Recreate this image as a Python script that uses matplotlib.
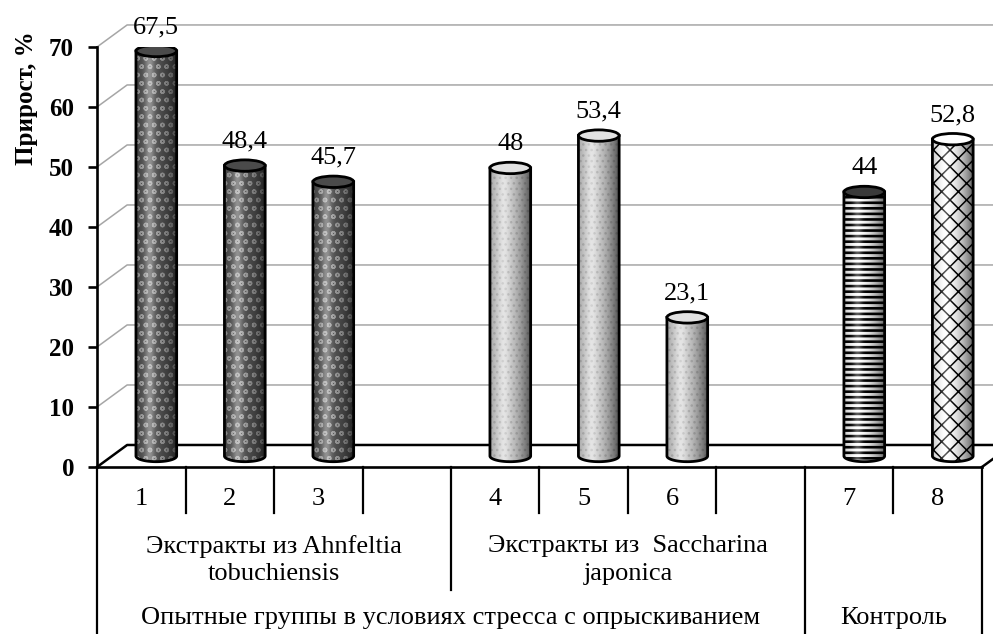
import numpy as np
import matplotlib.pyplot as plt
from matplotlib.patches import Polygon, Ellipse

plt.rcParams['font.family'] = ['Liberation Serif', 'DejaVu Serif']
plt.rcParams['hatch.linewidth'] = 1.0

# данные с рисунка
categories = ['1', '2', '3', '', '4', '5', '6', '', '7', '8']
values = [67.5, 48.4, 45.7, np.nan, 48, 53.4, 23.1, np.nan, 44, 52.8]
value_labels = ['67,5', '48,4', '45,7', '', '48', '53,4', '23,1', '', '44', '52,8']
group_labels = ['Экстракты из Ahnfeltia\ntobuchiensis', 'Экстракты из  Saccharina\njaponica']
group_sizes = [4, 4]
top_labels = ['Опытные группы в условиях стресса с опрыскиванием', 'Контроль']
top_sizes = [8, 2]
ylabel = 'Прирост, %'
yticks = [0, 10, 20, 30, 40, 50, 60, 70]

# заливка цилиндров
kind = ['dark', 'dark', 'dark', None, 'light', 'light', 'light', None, 'stripe', 'net']
styles = {
    'dark': dict(face='#575757', hcolor='#a4a4a4', hatch='oo', top='#4a4a4a', hlw=1.0),
    'light': dict(face='#d6d6d6', hcolor='#b8b8b8', hatch='...', top='#e2e2e2', hlw=1.0),
    'stripe': dict(face='white', hcolor='black', hatch='---', top='#3a3a3a', hlw=1.9),
    'net': dict(face='white', hcolor='black', hatch='xx', top='white', hlw=1.1),
}

fig = plt.figure(figsize=(9.93, 6.34), dpi=100)
ax = fig.add_axes([0.0977, 0.2634, 0.8912, 0.6625])
n = len(categories)
dx, dy = 0.34, 3.67     # глубина "3D"
bw, eh = 0.46, 1.9      # ширина цилиндра, высота эллипса
fs = 19

# задняя стенка и боковые линии
for t in yticks:
    col = 'black' if t == 0 else '#a6a6a6'
    lw = 1.8 if t == 0 else 1.1
    ax.plot([0, dx, n + dx + 1], [t, t + dy, t + dy], color=col, lw=lw, zorder=1, clip_on=False)
ax.plot([n, n + dx], [0, dy], color='black', lw=1.8, zorder=1, clip_on=False)

# градиент для объёма
tt = np.linspace(0, 1, 64)
dark = np.zeros((1, 64, 4))
dark[0, :, 3] = np.clip(0.6 * (np.abs(tt - 0.35) / 0.65) ** 1.6, 0, 0.6)
light = np.ones((1, 64, 4))
light[0, :, 3] = 0.35 * np.exp(-((tt - 0.33) / 0.12) ** 2)

for i, v in enumerate(values):
    if np.isnan(v):
        continue
    st = styles[kind[i]]
    xc = i + 0.5 + dx / 2
    base = dy / 2
    top = v + dy / 2
    th = np.linspace(np.pi, 2 * np.pi, 40)
    pts = [(xc - bw / 2, top)] + list(zip(xc + bw / 2 * np.cos(th), base + eh / 2 * np.sin(th))) + [(xc + bw / 2, top)]
    body = Polygon(pts, closed=True, facecolor=st['face'], edgecolor=st['hcolor'],
                   hatch=st['hatch'], lw=0, zorder=3)
    if hasattr(body, 'set_hatch_linewidth'):
        body.set_hatch_linewidth(st['hlw'])
    ax.add_patch(body)
    for img in (dark, light):
        im = ax.imshow(img, extent=(xc - bw / 2, xc + bw / 2, base - eh, top), aspect='auto', zorder=4)
        im.set_clip_path(body)
    ax.add_patch(Polygon(pts, closed=True, fill=False, edgecolor='black', lw=2, zorder=5))
    ax.add_patch(Ellipse((xc, top), bw, eh, facecolor=st['top'], edgecolor='black', lw=2, zorder=6))
    ax.text(xc, top + 4, value_labels[i], ha='center', va='center', fontsize=fs, zorder=7)

# таблица категорий под осью
group_b = np.cumsum([0] + group_sizes)
top_b = np.cumsum([0] + top_sizes)
for b in range(n + 1):
    if b in top_b:
        y1 = -40
    elif b in group_b:
        y1 = -20.5
    else:
        y1 = -7.7
    ax.plot([b, b], [0, y1], color='black', lw=1.6, clip_on=False, zorder=2)

for i, c in enumerate(categories):
    ax.text(i + 0.5, -5.3, c, ha='center', va='center', fontsize=fs)
start = 0
for lab, size in zip(group_labels, group_sizes):
    ax.text(start + size / 2, -15.5, lab, ha='center', va='center', fontsize=fs, linespacing=1.32)
    start += size
start = 0
for lab, size in zip(top_labels, top_sizes):
    ax.text(start + size / 2, -25.2, lab, ha='center', va='center', fontsize=fs)
    start += size

ax.set_xlim(0, n)
ax.set_ylim(0, 70)
ax.set_yticks(yticks)
ax.set_xticks([])
for s in ['top', 'right']:
    ax.spines[s].set_visible(False)
ax.spines['left'].set_linewidth(1.9)
ax.spines['bottom'].set_linewidth(1.9)
ax.tick_params(axis='y', direction='out', length=6.5, width=1.9, labelsize=18, pad=10)
for lbl in ax.get_yticklabels():
    lbl.set_fontweight('bold')
ax.patch.set_visible(False)

fig.text(26 / 993, 1 - 98 / 634, ylabel, rotation=90, ha='center', va='center',
         fontsize=18, fontweight='bold')

fig.savefig('out.png', dpi=100)
